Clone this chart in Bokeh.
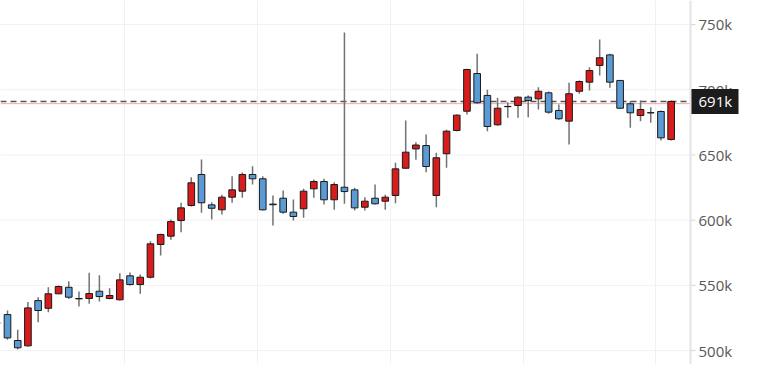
from bokeh.plotting import figure
from bokeh.models import Range1d, FixedTicker, Span, Grid, ColumnDataSource
from bokeh.core.properties import value
from bokeh.embed import file_html
from bokeh.resources import INLINE

# Candle values in thousands (first one is only partly visible at the left edge)
opens = [521.3, 527.6, 507.7, 503.6, 538.3, 532.4, 543.5, 548.5, 539.9, 539.9, 545.5,
         539.9, 538.9, 557.3, 550.6, 556.2, 581.3, 587.7, 599.7, 611.2, 635.0,
         611.7, 607.9, 617.6, 622.2, 635.0, 631.7, 612.3, 616.8, 606.1, 608.7,
         624.0, 629.6, 615.6, 625.2, 623.2, 609.9, 616.8, 614.5, 618.9, 639.8,
         654.6, 657.2, 618.9, 650.9, 668.7, 683.5, 712.4, 695.6, 673.1, 687.0,
         687.9, 694.3, 693.0, 697.6, 684.1, 675.9, 698.8, 705.8, 718.6, 726.7,
         707.1, 689.2, 680.2, 682.4, 683.3, 661.8]
highs = [522.0, 530.7, 515.9, 537.3, 540.9, 548.5, 549.8, 553.1, 545.2, 559.6, 557.7,
         547.8, 559.3, 559.8, 558.3, 583.8, 589.5, 600.5, 613.3, 632.9, 646.5,
         613.7, 619.4, 633.7, 636.5, 641.3, 633.7, 618.9, 622.7, 615.8, 624.0,
         631.1, 631.7, 629.1, 743.9, 624.8, 617.6, 627.3, 619.4, 643.9, 676.4,
         659.7, 665.6, 651.6, 669.3, 681.0, 716.0, 727.5, 699.9, 693.8, 690.4,
         694.8, 695.6, 701.9, 698.6, 688.7, 705.3, 707.1, 717.3, 738.5, 727.5,
         707.1, 691.2, 691.7, 686.6, 684.1, 691.7]
lows = [520.0, 508.2, 500.8, 503.1, 521.7, 529.4, 543.5, 539.6, 533.7, 535.8, 537.6,
        539.3, 538.3, 549.8, 543.5, 555.2, 572.9, 584.9, 590.7, 610.4, 605.6,
        600.5, 604.3, 613.3, 617.1, 627.3, 607.4, 595.9, 604.8, 599.7, 601.8,
        617.1, 612.0, 607.9, 612.5, 607.4, 607.4, 612.0, 607.9, 613.0, 639.3,
        646.2, 636.7, 609.9, 640.1, 668.2, 681.0, 689.2, 668.2, 672.3, 678.5,
        678.5, 678.9, 684.8, 681.5, 676.9, 658.0, 696.9, 699.4, 710.9, 701.5,
        685.4, 670.8, 675.9, 674.6, 661.0, 661.0]
closes = [521.0, 509.7, 502.1, 532.7, 530.7, 543.5, 549.1, 540.9, 539.6, 543.7, 541.4,
          542.2, 554.2, 550.6, 556.2, 581.8, 589.0, 598.9, 609.4, 628.6, 613.3,
          609.1, 617.6, 623.2, 635.0, 631.7, 607.9, 611.8, 606.1, 602.8, 622.2,
          629.6, 615.6, 627.3, 621.9, 609.4, 614.5, 612.5, 617.6, 639.3, 652.1,
          657.6, 641.1, 647.8, 668.2, 680.5, 715.5, 690.0, 671.8, 685.8, 687.2,
          694.3, 691.7, 698.8, 682.8, 677.7, 696.9, 706.3, 714.7, 724.5, 705.8,
          685.8, 682.3, 684.8, 682.2, 663.1, 691.0]
y_ticks = [500, 550, 600, 650, 700, 750]
y_labels = [f"{t}k" for t in y_ticks]
grid_x = [11.5, 24.5, 37.5, 50.5, 63.5]
last_price = 691
last_line = 689.3

UP = "#d81b1b"
DOWN = "#5b9bd5"
FONT = "Open Sans"

n = len(opens)
xs = list(range(-1, n - 1))
src = ColumnDataSource(dict(
    x=xs, high=highs, low=lows,
    top=[max(o, c) for o, c in zip(opens, closes)],
    bottom=[min(o, c) for o, c in zip(opens, closes)],
    color=[UP if c >= o else DOWN for o, c in zip(opens, closes)],
))

# layout: pixels per candle slot, frame spans the full figure
W, H = 757, 364
PX = 10.21
X0 = -0.686
X_AXIS = X0 + 690 / PX          # where the price scale starts
X1 = X0 + W / PX

p = figure(width=W, height=H, x_range=Range1d(X0, X1), y_range=Range1d(489.3, 768.4),
           output_backend="svg", toolbar_location=None, x_axis_location=None,
           y_axis_location=None, min_border_left=0, min_border_top=0,
           min_border_bottom=0, min_border_right=0)
p.outline_line_color = None
p.background_fill_color = "white"
p.border_fill_color = "white"
p.xgrid.visible = False
p.ygrid.visible = False

vgrid = Grid(dimension=0, ticker=FixedTicker(ticks=grid_x), grid_line_color="#f1f1f1", grid_line_width=1)
p.add_layout(vgrid, "center")

# horizontal grid lines, only over the chart area
p.segment(x0=[X0] * len(y_ticks), y0=y_ticks, x1=[X_AXIS] * len(y_ticks), y1=y_ticks,
          line_color="#f1f1f1", line_width=1)

# last price lines
p.segment(x0=[X0], y0=[last_line], x1=[X_AXIS], y1=[last_line], line_color="#f0a6a6", line_width=1)
p.segment(x0=[X0], y0=[last_price], x1=[X_AXIS], y1=[last_price], line_color="#555555",
          line_width=1.5, line_dash="6 4")

# candles
p.segment(x0="x", y0="low", x1="x", y1="high", source=src, line_color="#727272", line_width=1.5)
p.vbar(x="x", width=0.65, top="top", bottom="bottom", source=src,
       fill_color="color", line_color="#1a1a1a", line_width=1)

# price scale on the right
p.add_layout(Span(location=X_AXIS, dimension="height", line_color="#e4e4e4", line_width=2))
p.segment(x0=[X_AXIS] * len(y_ticks), y0=y_ticks, x1=[X_AXIS + 5 / PX] * len(y_ticks), y1=y_ticks,
          line_color="#d6d6d6", line_width=1)
p.text(x=[X_AXIS + 8 / PX] * len(y_ticks), y=y_ticks, text=y_labels, text_align="left",
       text_baseline="middle", text_font=value(FONT), text_font_size="15px", text_color="#585858")

# last price tag
p.rect(x=[X_AXIS + 24 / PX], y=[last_price], width=48, height=25, width_units="screen",
       height_units="screen", fill_color="#1c1c1c", line_color=None)
p.text(x=[X_AXIS + 8 / PX], y=[last_price], text=[f"{last_price}k"], text_align="left",
       text_baseline="middle", text_font=value(FONT), text_font_size="15px", text_color="white")

open("out.html", "w").write(file_html(p, INLINE))
